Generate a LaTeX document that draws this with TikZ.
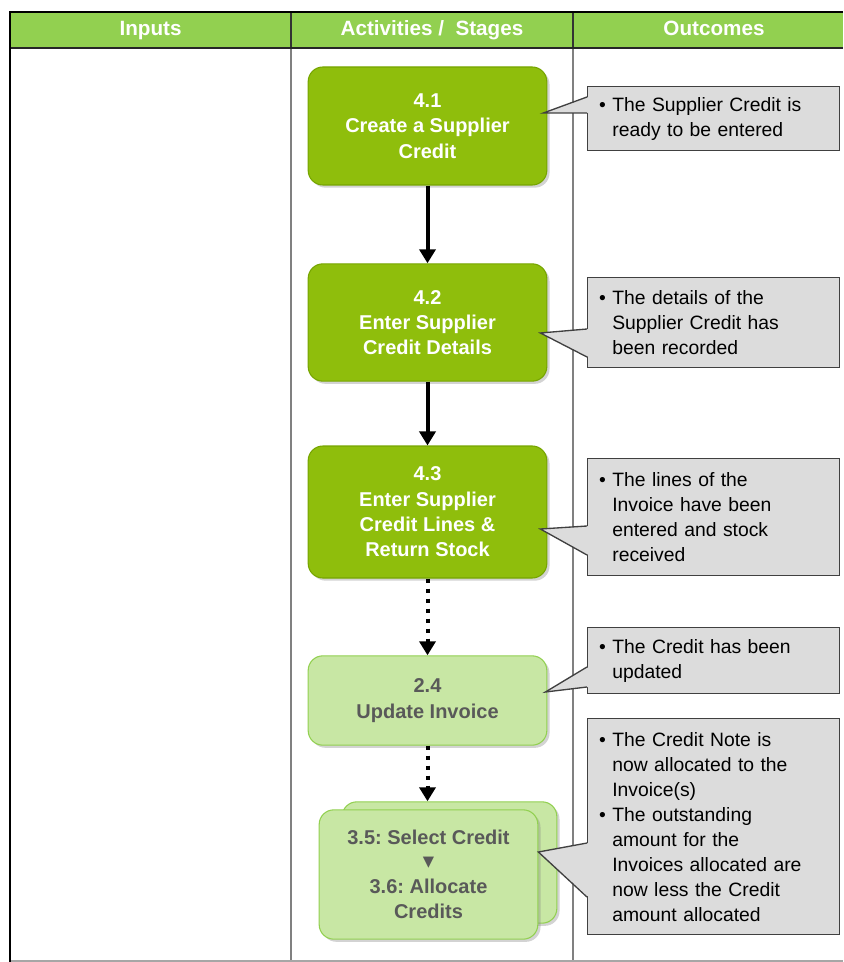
\documentclass[tikz,border=0pt]{standalone}
\usepackage{fontspec}
\setmainfont{Liberation Sans}
\newfontfamily\symfont{DejaVu Sans}
\usetikzlibrary{arrows.meta, positioning, calc, shadows}

\definecolor{headgreen}{RGB}{146,208,80}
\definecolor{stagegreen}{RGB}{143,190,12}
\definecolor{stageedge}{RGB}{118,165,0}
\definecolor{palegreen}{RGB}{200,231,164}
\definecolor{paleedge}{RGB}{146,208,80}
\definecolor{paletext}{RGB}{89,89,89}
\definecolor{notefill}{RGB}{220,220,220}
\definecolor{noteline}{RGB}{64,64,64}

\newcommand{\bul}{\makebox[10pt][l]{\textbullet}}
\newcommand{\ind}{\hspace*{10pt}}

\tikzset{
  stage/.style={rectangle, rounded corners=11pt, fill=stagegreen, draw=stageedge,
    line width=0.8pt, text=white, align=center, minimum width=179pt,
    font=\fontsize{15}{19}\selectfont\bfseries\frenchspacing,
    drop shadow={shadow xshift=2pt, shadow yshift=-2pt, opacity=0.35}},
  later/.style={stage, fill=palegreen, draw=paleedge, text=paletext},
  note/.style={rectangle, anchor=north west, fill=notefill, draw=noteline,
    line width=1pt, text width=172pt, inner xsep=8.5pt, align=left,
    minimum width=189pt, font=\fontsize{14.5}{18.75}\selectfont},
  flow/.style={line width=3pt, -{Triangle[width=12pt,length=10.5pt]}},
  maybe/.style={flow, dash pattern=on 3pt off 4.5pt},
  headtext/.style={text=white, anchor=base, font=\fontsize{15.5}{18}\selectfont\bfseries},
}

\begin{document}
\begin{tikzpicture}[x=0.75pt, y=-0.75pt]
    \useasboundingbox (0,0) rectangle (843,962);

    % table
    \fill[headgreen] (10,12) rectangle (843,48);
    \draw[gray, line width=1.2pt] (291,48) -- (291,962);
    \draw[gray, line width=1.2pt] (573,48) -- (573,962);
    \draw[black!80, line width=1pt] (291,12) -- (291,48);
    \draw[black!80, line width=1pt] (573,12) -- (573,48);
    \draw[gray!70, line width=1.2pt] (10,961) -- (843,961);
    \draw[black!85, line width=1.5pt] (10,48) -- (843,48);
    \draw[line width=2.2pt] (843,12) -- (10,12) -- (10,962);

    \node[headtext] (hin) at (150.5,36) {Inputs};
    \node[headtext] (hact) at (432,36) {Activities /\ \ Stages};
    \node[headtext] (hout) at (714,36) {Outcomes};

    % stages
    \node[stage, minimum height=88.5pt] (b41) at (427.5,126) {4.1\\Create a Supplier\\Credit};
    \node[stage, minimum height=88pt] (b42) at (427.5,322.5) {4.2\\Enter Supplier\\Credit Details};
    \node[stage, minimum height=99pt] (b43) at (427.5,512) {4.3\\Enter Supplier\\Credit Lines \&\\Return Stock};
    \node[later, minimum height=67pt] (b24) at (427.5,700.5) {2.4\\Update Invoice};
    \node[later, minimum width=161pt, minimum height=91pt] (b35b) at (449.5,862.5) {};
    \node[later, minimum width=164pt, minimum height=97pt] (b35) at (428.5,874.5)
        {3.5: Select Credit\\[-2pt]{\symfont\fontsize{11}{11}\selectfont ▼}\\[1pt]3.6: Allocate\\Credits};

    % arrows
    \draw[flow] (b41) -- (b42);
    \draw[flow] (b42) -- (b43);
    \draw[maybe] (b43) -- (b24);
    \draw[maybe] (b24.south) -- (b24.south |- b35b.north);

    % outcomes
    \node[note, minimum height=48pt] (c1) at (587,86)
        {\bul The Supplier Credit is\\\ind ready to be entered};
    \node[note, minimum height=67.5pt] (c2) at (587,277)
        {\bul The details of the\\\ind Supplier Credit has\\\ind been recorded};
    \node[note, minimum height=87.75pt] (c3) at (587,458)
        {\bul The lines of the\\\ind Invoice have been\\\ind entered and stock\\\ind received};
    \node[note, minimum height=49.5pt] (c4) at (587,627)
        {\bul The Credit has been\\\ind updated};
    \node[note, minimum height=162pt] (c5) at (587,718)
        {\bul The Credit Note is\\\ind now allocated to the\\\ind Invoice(s)\\
         \bul The outstanding\\\ind amount for the\\\ind Invoices allocated are\\\ind now less the Credit\\\ind amount allocated};

    % pointers
    \fill[notefill] ([xshift=1.2pt]c1.west |- 0,97) -- ($(b41.east)+(-4,-13)$) -- ([xshift=1.2pt]c1.west |- 0,113) -- cycle;
    \draw[noteline, line width=1pt] (c1.west |- 0,97) -- ($(b41.east)+(-4,-13)$) -- (c1.west |- 0,113);
    \fill[notefill] ([xshift=1.2pt]c2.west |- 0,329) -- ($(b42.east)+(-7,10.5)$) -- ([xshift=1.2pt]c2.west |- 0,357) -- cycle;
    \draw[noteline, line width=1pt] (c2.west |- 0,329) -- ($(b42.east)+(-7,10.5)$) -- (c2.west |- 0,357);
    \fill[notefill] ([xshift=1.2pt]c3.west |- 0,526) -- ($(b43.east)+(-7,17)$) -- ([xshift=1.2pt]c3.west |- 0,555) -- cycle;
    \draw[noteline, line width=1pt] (c3.west |- 0,526) -- ($(b43.east)+(-7,17)$) -- (c3.west |- 0,555);
    \fill[notefill] ([xshift=1.2pt]c4.west |- 0,667) -- ($(b24.east)+(-2,-8.5)$) -- ([xshift=1.2pt]c4.west |- 0,687) -- cycle;
    \draw[noteline, line width=1pt] (c4.west |- 0,667) -- ($(b24.east)+(-2,-8.5)$) -- (c4.west |- 0,687);
    \fill[notefill] ([xshift=1.2pt]c5.west |- 0,843) -- ($(b35.east)+(0,-22.5)$) -- ([xshift=1.2pt]c5.west |- 0,897) -- cycle;
    \draw[noteline, line width=1pt] (c5.west |- 0,843) -- ($(b35.east)+(0,-22.5)$) -- (c5.west |- 0,897);
\end{tikzpicture}
\end{document}
